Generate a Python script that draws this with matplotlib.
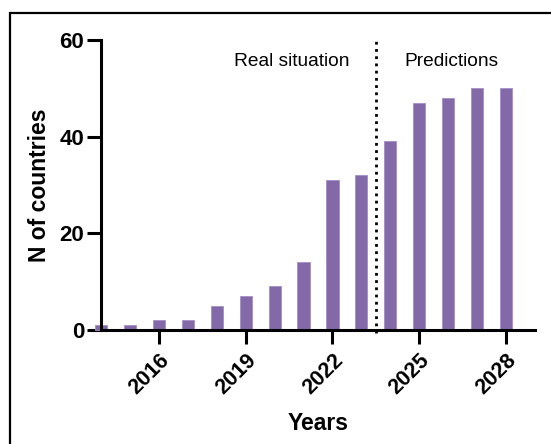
import matplotlib.pyplot as plt
from matplotlib.patches import Rectangle

# datos
years = [2014, 2015, 2016, 2017, 2018, 2019, 2020, 2021,
         2022, 2023, 2024, 2025, 2026, 2027, 2028]
countries = [1, 1, 2, 2, 5, 7, 9, 14, 31, 32, 39, 47, 48, 50, 50]
tick_years = [2016, 2019, 2022, 2025, 2028]
y_ticks = [0, 20, 40, 60]

plt.rcParams['font.family'] = ['Liberation Sans', 'DejaVu Sans']

fig = plt.figure(figsize=(5.51, 4.44), dpi=100)
ax = fig.add_axes([0.1833, 0.2568, 0.7877, 0.6531])

ax.bar(years, countries, width=0.42, color='#8469a9', edgecolor='#a58fc6',
       linewidth=0.6, clip_on=False, zorder=2)

# linea punteada entre datos reales y predicciones
ax.axvline(2023.5, ymin=-0.01, ymax=1, color='black', linestyle=(0, (1, 1.6)),
           linewidth=2, clip_on=False, zorder=3)

ax.text(2020.6, 55.6, "Real situation", ha='center', va='center', fontsize=13.8)
ax.text(2026.1, 55.6, "Predictions", ha='center', va='center', fontsize=13.8)

ax.set_xlim(2014, 2029)
ax.set_ylim(0, 60)
ax.set_xticks(tick_years)
ax.set_xticklabels([str(y) for y in tick_years], rotation=45, ha='right',
                   rotation_mode='anchor', fontsize=15.5, fontweight='bold')
ax.set_yticks(y_ticks)
ax.set_yticklabels([str(v) for v in y_ticks], fontsize=16, fontweight='bold')
ax.tick_params(axis='x', length=10, width=2.2, pad=4)
ax.tick_params(axis='y', length=10, width=2.2, pad=2)

for side in ['top', 'right']:
    ax.spines[side].set_visible(False)
for side in ['left', 'bottom']:
    ax.spines[side].set_linewidth(2.2)
    ax.spines[side].set_zorder(4)

ax.set_xlabel("Years", fontsize=16.5, fontweight='bold', labelpad=10)
ax.set_ylabel("N of countries", fontsize=16.5, fontweight='bold', labelpad=6)

# marco de la figura
fig.patches.append(Rectangle((10 / 551, -0.1), 1.2, 1 - 13 / 444 + 0.1,
                             transform=fig.transFigure, fill=False,
                             edgecolor='black', linewidth=1.6))

fig.savefig("out.png", dpi=100)
